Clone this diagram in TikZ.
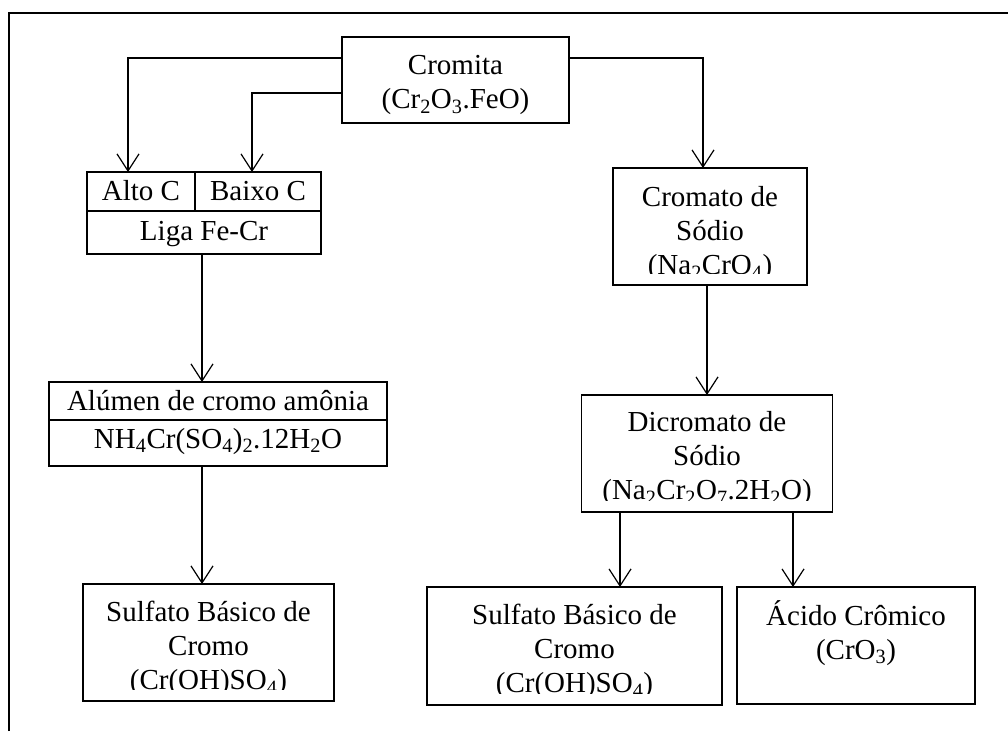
\documentclass[tikz,border=0pt]{standalone}
\usepackage{fontspec}
\setmainfont{Liberation Serif}
\usetikzlibrary{arrows.meta}
\newcommand{\sbs}[1]{\textsubscript{#1}}
\begin{document}
\begin{tikzpicture}[x=1pt,y=-1pt,
  box/.style={draw, line width=1.6pt, inner sep=0pt, outer sep=0pt},
  txt/.style={inner sep=0pt, anchor=base, align=center, font=\fontsize{29}{34}\selectfont},
  arr/.style={line width=1.2pt, -{Straight Barb[length=17pt,width=22pt]}},
  frame/.style={line width=1.5pt}]
\useasboundingbox (0,0) rectangle (1008,731);
% outer frame
\coordinate (fa) at (9,731);
\coordinate (fb) at (9,13);
\coordinate (fc) at (1008,13);
\draw[frame] (fa) -- (fb) -- (fc);
% boxes
\node[box, minimum width=227pt, minimum height=86pt] (cromita) at (455.5,80) {};
\node[box, minimum width=234pt, minimum height=82pt] (liga) at (204,213) {};
\node[box, minimum width=194pt, minimum height=117pt] (cromato) at (710,226.5) {};
\node[box, minimum width=338pt, minimum height=84pt] (alumen) at (218,424) {};
\node[box, minimum width=251pt, minimum height=117pt] (dicromato) at (707,453.5) {};
\node[box, minimum width=251pt, minimum height=117pt] (sulfL) at (208.5,642.5) {};
\node[box, minimum width=295pt, minimum height=118pt] (sulfR) at (574.5,646) {};
\node[box, minimum width=238pt, minimum height=117pt] (acido) at (856,645.5) {};
% dividers
\draw[line width=1.6pt] ([yshift=2pt]liga.west) -- ([yshift=2pt]liga.east);
\draw[line width=1.6pt] ([xshift=-9pt]liga.north) -- ([xshift=-9pt,yshift=2pt]liga.center);
\draw[line width=1.6pt] ([yshift=4pt]alumen.west) -- ([yshift=4pt]alumen.east);
% texts (base anchor = baseline of the last line)
\node[txt] (tcromita) at (455.5,108.5) {Cromita\\(Cr\sbs{2}O\sbs{3}.FeO)};
\node[txt] (talto) at (141,200) {Alto C};
\node[txt] (tbaixo) at (258,200) {Baixo C};
\node[txt] (tliga) at (204,240) {Liga Fe-Cr};
\node[txt] (talumen) at (218,410) {Alúmen de cromo amônia};
\node[txt] (tnh) at (218,448) {NH\sbs{4}Cr(SO\sbs{4})\sbs{2}.12H\sbs{2}O};
\node[txt] (tacido) at (856,659) {Ácido Crômico\\(CrO\sbs{3})};
\begin{scope}
\clip (cromato.north west) rectangle ([yshift=11.5pt]cromato.south east);
\node[txt] (tcromato) at (710,274.7) {Cromato de\\Sódio\\(Na\sbs{2}CrO\sbs{4})};
\end{scope}
\begin{scope}
\clip (dicromato.north west) rectangle ([yshift=11.5pt]dicromato.south east);
\node[txt] (tdicromato) at (707,499.7) {Dicromato de\\Sódio\\(Na\sbs{2}Cr\sbs{2}O\sbs{7}.2H\sbs{2}O)};
\end{scope}
\begin{scope}
\clip (sulfL.north west) rectangle ([yshift=11.5pt]sulfL.south east);
\node[txt] (tsulfL) at (208.5,689.7) {Sulfato Básico de\\Cromo\\(Cr(OH)SO\sbs{4})};
\end{scope}
\begin{scope}
\clip (sulfR.north west) rectangle ([yshift=11.5pt]sulfR.south east);
\node[txt] (tsulfR) at (574.5,692.7) {Sulfato Básico de\\Cromo\\(Cr(OH)SO\sbs{4})};
\end{scope}
% connectors
\draw[arr] ([yshift=22pt]cromita.west) -| ([xshift=-76pt]liga.north);
\draw[arr] ([yshift=-13pt]cromita.west) -| ([xshift=48pt]liga.north);
\draw[arr] ([yshift=22pt]cromita.east) -| ([xshift=-7pt]cromato.north);
\draw[arr] ([xshift=-2pt]liga.south) -- ([xshift=-16pt]alumen.north);
\draw[arr] ([xshift=-16pt]alumen.south) -- ([xshift=-6.5pt]sulfL.north);
\draw[arr] ([xshift=-3pt]cromato.south) -- (dicromato.north);
\draw[arr] ([xshift=-87pt]dicromato.south) -- ([xshift=45.5pt]sulfR.north);
\draw[arr] ([xshift=86pt]dicromato.south) -- ([xshift=-63pt]acido.north);
\end{tikzpicture}
\end{document}
